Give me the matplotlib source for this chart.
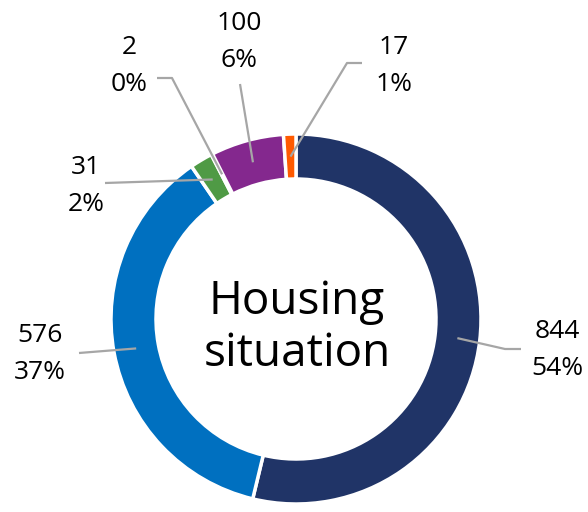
# libraries
import matplotlib.pyplot as plt
import numpy as np

# data
counts = [844, 576, 31, 2, 100, 17]
colors = ['#203467', '#0070c0', '#4f9a45', '#c8c8c8', '#84288e', '#ff5a00']
title = 'Housing\nsituation'

# label anchors (pixel coords, y from top) and elbow points of the leader lines
label_pos = [(557, 350), (40, 354), (86, 186), (129, 66), (239, 42), (394, 66)]
elbows = [[(505, 349), (521, 349)],
          [(79, 353)],
          [(105, 183)],
          [(172, 78), (157, 78)],
          [(240, 84)],
          [(347, 63), (362, 63)]]

W, H = 588, 512
cx, cy, R, ring = 296, 319, 185, 45

fig = plt.figure(figsize=(5.88, 5.12), dpi=100)
ax = fig.add_axes([0, 0, 1, 1])

ax.pie(counts, colors=colors, startangle=90, counterclock=False,
       radius=R, center=(cx, H - cy),
       wedgeprops=dict(width=ring, edgecolor='white', linewidth=2.5))

# leader lines
total = sum(counts)
start = 0.0
for i, v in enumerate(counts):
    mid = np.deg2rad((start + v / 2) / total * 360)
    start += v
    r = R - ring / 2
    px, py = cx + r * np.sin(mid), cy - r * np.cos(mid)
    pts = [(px, py)] + elbows[i]
    ax.plot([p[0] for p in pts], [H - p[1] for p in pts],
            color='#a6a6a6', lw=1.6, solid_capstyle='butt')
    pct = round(v / total * 100)
    lx, ly = label_pos[i]
    ax.text(lx, H - ly, f'{v}\n{pct}%', ha='center', va='center',
            fontsize=19, family='Open Sans', linespacing=1.6, color='black')

ax.text(cx + 1, H - 328, title, ha='center', va='center', fontsize=33,
        family='Open Sans', linespacing=1.15, color='black')

ax.set_xlim(0, W)
ax.set_ylim(0, H)
ax.set_aspect('equal')
ax.axis('off')

fig.savefig('out.png', dpi=100)
